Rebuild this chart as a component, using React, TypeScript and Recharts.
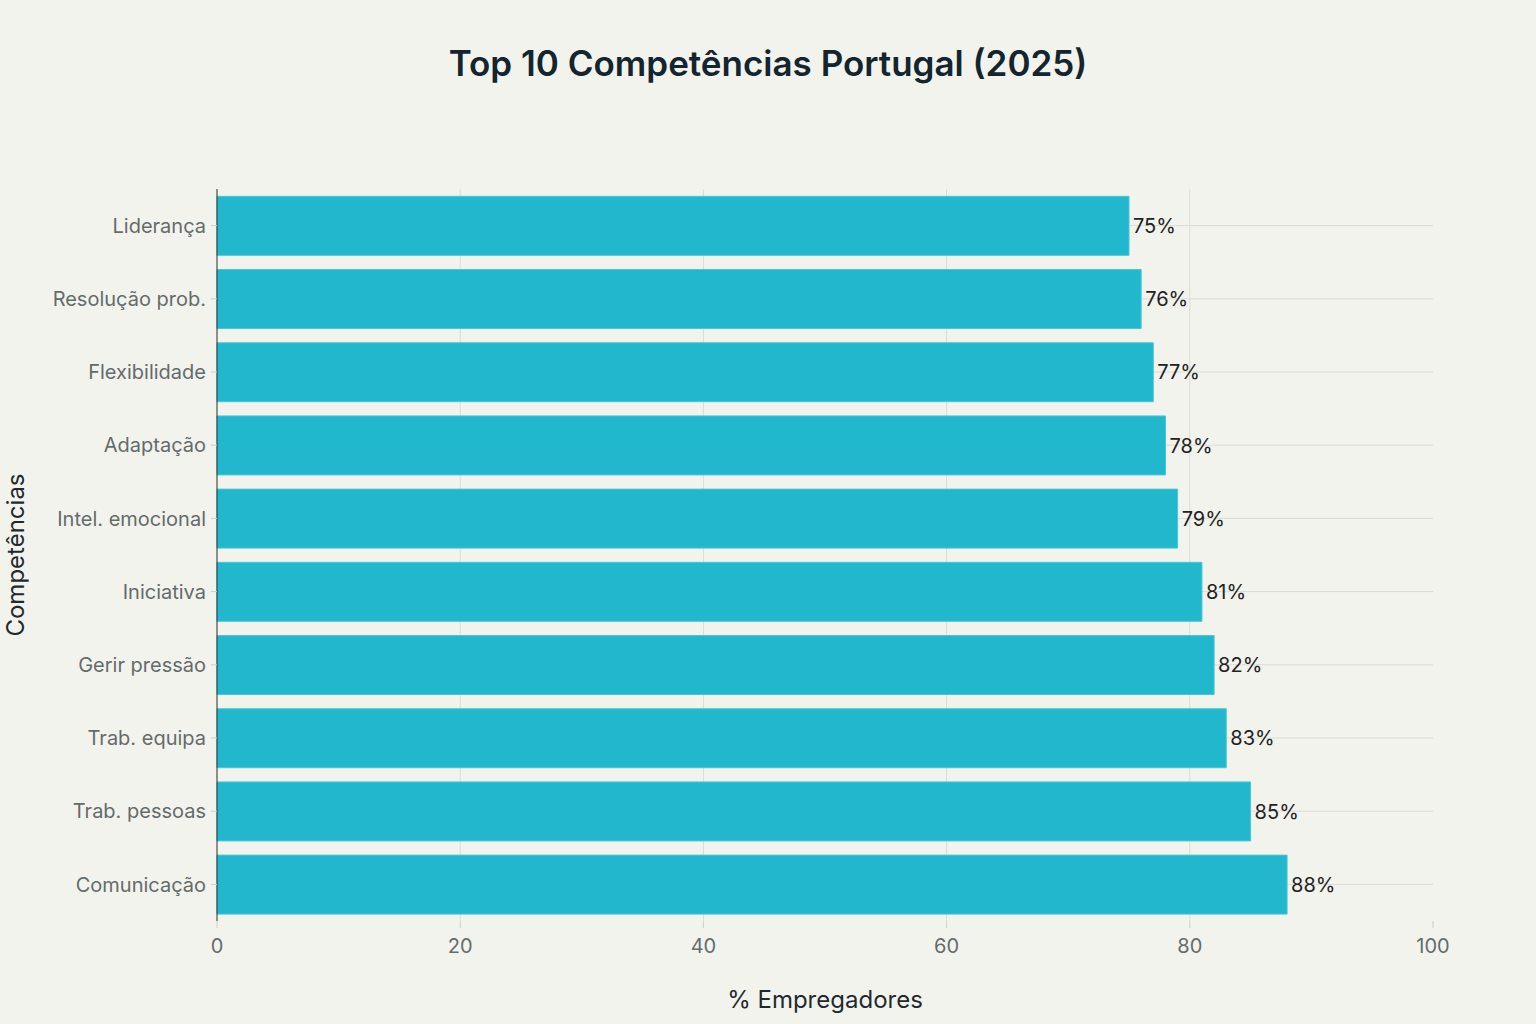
import { BarChart, Bar, XAxis, YAxis, CartesianGrid, LabelList, Label } from 'recharts';

const competencias = [
  'Liderança',
  'Resolução prob.',
  'Flexibilidade',
  'Adaptação',
  'Intel. emocional',
  'Iniciativa',
  'Gerir pressão',
  'Trab. equipa',
  'Trab. pessoas',
  'Comunicação',
];
const percentagens = [75, 76, 77, 78, 79, 81, 82, 83, 85, 88];
const xTicks = [0, 20, 40, 60, 80, 100];
const xMax = 100;

const data = competencias.map((name, i) => ({ name, value: percentagens[i] }));

const FONT = 'Inter, "Liberation Sans", sans-serif';
const GRID = '#dcdcd5';

// grid only at the inner x ticks and at the category centres (no frame lines)
const verticalGen = ({ offset }: any) =>
  xTicks.slice(1, -1).map((t) => offset.left + (t / xMax) * offset.width);
const horizontalGen = ({ offset }: any) => {
  const band = offset.height / competencias.length;
  return competencias.map((_, i) => offset.top + band * (i + 0.5));
};

export default function App() {
  return (
    <div style={{ position: 'absolute', left: 0, top: 0, width: 1536, height: 1024, background: '#f3f3ee', fontFamily: FONT }}>
      <div style={{ position: 'absolute', top: 42, left: 0, width: 1536, textAlign: 'center', fontSize: 35, fontWeight: 600, color: '#13252f' }}>
        Top 10 Competências Portugal (2025)
      </div>
      <BarChart
        width={1536}
        height={1024}
        data={data}
        layout="vertical"
        barCategoryGap="10%"
        margin={{ top: 189, right: 103, bottom: 3, left: 17 }}
      >
        <CartesianGrid stroke={GRID} verticalCoordinatesGenerator={verticalGen} horizontalCoordinatesGenerator={horizontalGen} />
        <XAxis
          type="number"
          domain={[0, xMax]}
          ticks={xTicks}
          axisLine={false}
          tickLine={{ stroke: '#cfcfc8' }}
          tickSize={7}
          tickMargin={11}
          height={100}
          tick={{ fontSize: 20, fill: '#646b6b', fontFamily: FONT }}
        >
          <Label
            content={({ viewBox }: any) => (
              <text x={viewBox.x + viewBox.width / 2} y={1008} textAnchor="middle" fontSize={24} fill="#1f2a2e" fontFamily={FONT}>
                % Empregadores
              </text>
            )}
          />
        </XAxis>
        <YAxis
          type="category"
          dataKey="name"
          width={200}
          axisLine={{ stroke: '#2a2a2a' }}
          tickLine={{ stroke: '#cfcfc8' }}
          tickSize={6}
          tickMargin={5}
          tick={{ fontSize: 20, fill: '#646b6b', fontFamily: FONT }}
        >
          <Label
            content={({ viewBox }: any) => {
              const cy = viewBox.y + viewBox.height / 2;
              return (
                <text x={24} y={cy} transform={`rotate(-90, 24, ${cy})`} textAnchor="middle" fontSize={24} fill="#1f2a2e" fontFamily={FONT}>
                  Competências
                </text>
              );
            }}
          />
        </YAxis>
        <Bar dataKey="value" fill="#21b8cd" stroke="#4cc6d6" strokeWidth={1} isAnimationActive={false}>
          <LabelList
            dataKey="value"
            position="right"
            offset={4}
            formatter={(v: any) => `${v}%`}
            style={{ fontSize: 20, fill: '#222', fontFamily: FONT }}
          />
        </Bar>
      </BarChart>
    </div>
  );
}
